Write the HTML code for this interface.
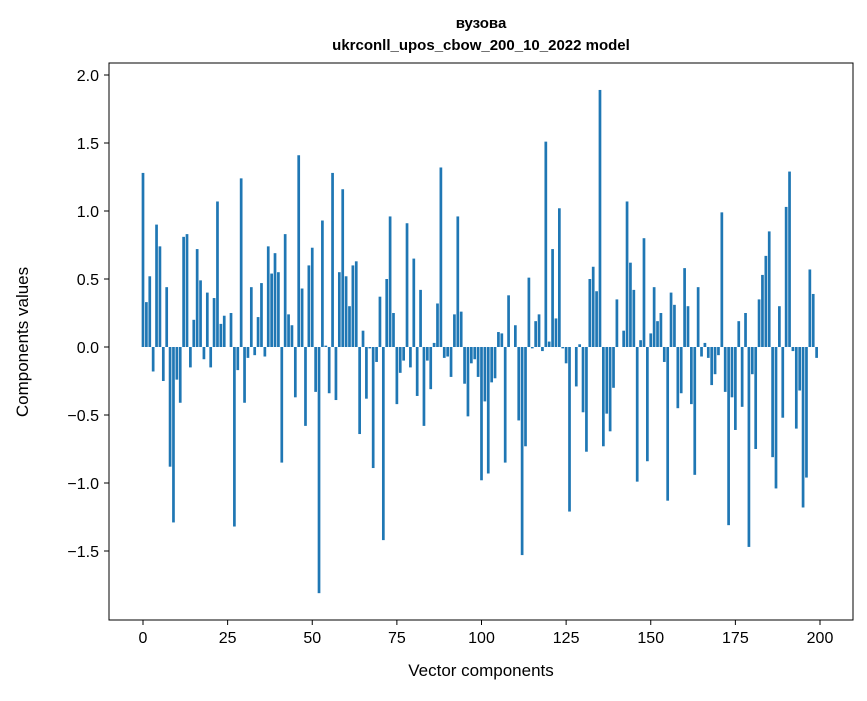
<!DOCTYPE html>
<html><head><meta charset="utf-8"><style>
body{margin:0;background:#fff;font-family:"Liberation Sans","DejaVu Sans",sans-serif;}
svg text{font-family:"Liberation Sans","DejaVu Sans",sans-serif;}
</style></head><body>
<svg id="chart" width="867" height="696" xmlns="http://www.w3.org/2000/svg">
<rect width="867" height="696" fill="#fff"/>
<text x="481" y="28" text-anchor="middle" font-size="15" font-weight="bold">вузова</text>
<text x="481" y="50" text-anchor="middle" font-size="15" font-weight="bold">ukrconll_upos_cbow_200_10_2022 model</text>
<g id="bars"></g>
<g id="axes"></g>
<rect x="109" y="63" width="744" height="557" fill="none" stroke="#000" stroke-width="1"/>
<text x="481" y="676" text-anchor="middle" font-size="17">Vector components</text>
<text transform="translate(28,342) rotate(-90)" text-anchor="middle" font-size="17">Components values</text>
</svg>
<script>
const values=[1.28,0.33,0.52,-0.18,0.90,0.74,-0.25,0.44,-0.88,-1.29,-0.24,-0.41,0.81,0.83,-0.15,0.20,0.72,0.49,-0.09,0.40,-0.15,0.36,1.07,0.17,0.23,0,0.25,-1.32,-0.17,1.24,-0.41,-0.08,0.44,-0.06,0.22,0.47,-0.07,0.74,0.54,0.69,0.55,-0.85,0.83,0.24,0.16,-0.37,1.41,0.43,-0.58,0.60,0.73,-0.33,-1.81,0.93,0.01,-0.34,1.28,-0.39,0.55,1.16,0.52,0.30,0.60,0.63,-0.64,0.12,-0.38,-0.01,-0.89,-0.11,0.37,-1.42,0.50,0.96,0.25,-0.42,-0.19,-0.10,0.91,-0.15,0.65,-0.36,0.42,-0.58,-0.10,-0.31,0.03,0.32,1.32,-0.08,-0.07,-0.22,0.24,0.96,0.26,-0.27,-0.51,-0.12,-0.09,-0.22,-0.98,-0.40,-0.93,-0.26,-0.23,0.11,0.10,-0.85,0.38,0,0.16,-0.54,-1.53,-0.73,0.51,-0.01,0.19,0.24,-0.03,1.51,0.04,0.72,0.21,1.02,-0.01,-0.12,-1.21,0,-0.29,0.02,-0.48,-0.77,0.50,0.59,0.41,1.89,-0.73,-0.49,-0.62,-0.30,0.35,0,0.12,1.07,0.62,0.42,-0.99,0.05,0.80,-0.84,0.10,0.44,0.19,0.25,-0.11,-1.13,0.40,0.31,-0.45,-0.34,0.58,0.30,-0.42,-0.94,0.44,-0.07,0.03,-0.08,-0.28,-0.20,-0.06,0.99,-0.33,-1.31,-0.37,-0.61,0.19,-0.44,0.25,-1.47,-0.20,-0.75,0.35,0.53,0.67,0.85,-0.81,-1.04,0.30,-0.52,1.03,1.29,-0.03,-0.60,-0.32,-1.18,-0.96,0.57,0.39,-0.08];
const xTicks=[0,25,50,75,100,125,150,175,200];
const yTicks=[-1.5,-1.0,-0.5,0.0,0.5,1.0,1.5,2.0];
const NS="http://www.w3.org/2000/svg";
const xScale=v=>143+v*(820-143)/200;
const yScale=v=>347-v*136;
const bars=document.getElementById('bars');
values.forEach((v,i)=>{
  const r=document.createElementNS(NS,'rect');
  
  
  const w=0.8*(xScale(1)-xScale(0));
  r.setAttribute('x',xScale(i)-w/2);
  r.setAttribute('width',w);
  r.setAttribute('y',Math.min(yScale(v),yScale(0)));
  r.setAttribute('height',Math.abs(yScale(v)-yScale(0)));
  r.setAttribute('fill','#1f77b4');
  bars.appendChild(r);
});
const axes=document.getElementById('axes');
xTicks.forEach(t=>{
  const x=xScale(t);
  const l=document.createElementNS(NS,'line');
  
  
  l.setAttribute('x1',x);l.setAttribute('x2',x);l.setAttribute('y1',620);l.setAttribute('y2',625);l.setAttribute('stroke','#000');
  axes.appendChild(l);
  const tx=document.createElementNS(NS,'text');
  
  
  tx.setAttribute('x',x);tx.setAttribute('y',643);tx.setAttribute('text-anchor','middle');tx.setAttribute('font-size','16');
  tx.textContent=t;
  axes.appendChild(tx);
});
yTicks.forEach(t=>{
  const y=yScale(t);
  const l=document.createElementNS(NS,'line');
  
  
  l.setAttribute('x1',104);l.setAttribute('x2',109);l.setAttribute('y1',y);l.setAttribute('y2',y);l.setAttribute('stroke','#000');
  axes.appendChild(l);
  const tx=document.createElementNS(NS,'text');
  
  
  tx.setAttribute('x',99);tx.setAttribute('y',y+6);tx.setAttribute('text-anchor','end');tx.setAttribute('font-size','16');
  tx.textContent=(t<0?'\u2212':'')+Math.abs(t).toFixed(1);
  axes.appendChild(tx);
});
</script>
</body></html>
